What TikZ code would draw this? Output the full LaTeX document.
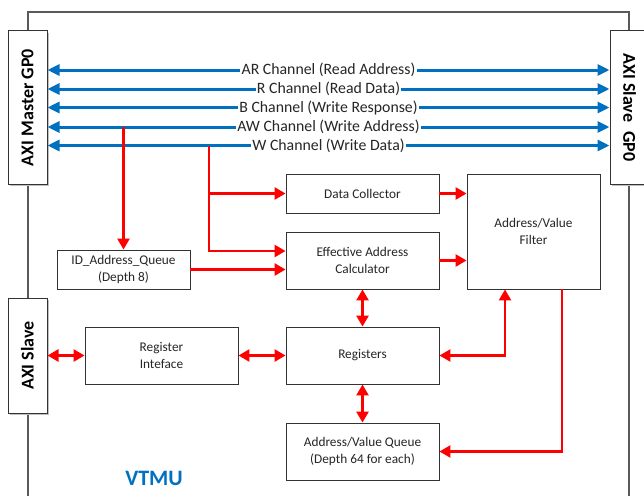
\documentclass[tikz,border=0pt]{standalone}
\usepackage{fontspec}
\setmainfont{Carlito}
\usetikzlibrary{arrows.meta,calc,shadows}
\definecolor{axiblue}{HTML}{0070C0}
\definecolor{framegray}{HTML}{595959}
\begin{document}
\begin{tikzpicture}[x=1pt,y=-1pt,
  blk/.style={draw=black!80, line width=0.9pt, fill=white, text=black!85, align=center,
    font=\fontsize{13.3}{16.5}\selectfont, inner sep=0pt},
  axibox/.style={draw=black!80, line width=1pt, fill=white, inner sep=0pt,
    drop shadow={shadow xshift=2pt, shadow yshift=-2pt, fill=black!25, opacity=1}},
  axitext/.style={font=\bfseries\fontsize{18}{20}\selectfont, text=black},
  bluearr/.style={draw=axiblue, line width=3pt, {Triangle[length=12pt,width=11pt]}-{Triangle[length=12pt,width=11pt]}},
  chlabel/.style={fill=white, inner sep=1.2pt, text=black!85, font=\fontsize{15.8}{17}\selectfont},
  redline/.style={draw=red, line width=2.6pt},
  redarr/.style={redline, -{Triangle[length=11pt,width=12pt]}},
  reddbl/.style={redline, {Triangle[length=11pt,width=12pt]}-{Triangle[length=11pt,width=12pt]}}
]
\useasboundingbox (0,0) rectangle (644,495);
% outer VTMU frame
\draw[framegray, line width=1.3pt] (28,12) rectangle (629,530);

% AXI boxes
\node[axibox, minimum width=39pt, minimum height=153pt] (master) at (27.5,107.5) {};
\node[axitext, rotate=90] (mastert) at (master.center) {AXI Master GP0};
\node[axibox, minimum width=39pt, minimum height=153pt] (slavegp) at (629.5,107.5) {};
\node[axitext, rotate=-90] (slavegpt) at (slavegp.center) {AXI Slave\hspace{0.5em}GP0};
\node[axibox, minimum width=39pt, minimum height=115pt] (slave) at (27.5,355.5) {};
\node[axitext, rotate=90] (slavet) at (slave.center) {AXI Slave};

% inner blocks
\node[blk, minimum width=153pt, minimum height=39pt] (dc) at (362.5,193.5) {Data Collector};
\node[blk, minimum width=153pt, minimum height=57pt] (eac) at (362.5,260.5) {Effective Address\\Calculator};
\node[blk, minimum width=133pt, minimum height=115pt] (filter) at (533.5,231.5) {Address/Value\\Filter};
\node[blk, minimum width=133pt, minimum height=39pt] (idq) at (123.5,269.5) {ID\_Address\_Queue\\(Depth 8)};
\node[blk, minimum width=153pt, minimum height=57pt] (ri) at (161.5,355.5) {Register\\Inteface};
\node[blk, minimum width=153pt, minimum height=57pt] (reg) at (362.5,355.5) {Registers};
\node[blk, minimum width=153pt, minimum height=57pt] (avq) at (362.5,451.5) {Address/Value Queue\\(Depth 64 for each)};

% VTMU label
\node[text=axiblue, font=\bfseries\fontsize{22}{24}\selectfont] (vtmu) at (154,478) {VTMU};

% blue channels
\draw[bluearr] (master.east |- 0,70) -- (slavegp.west |- 0,70) node[chlabel, midway] {AR Channel (Read Address)};
\draw[bluearr] (master.east |- 0,89) -- (slavegp.west |- 0,89) node[chlabel, midway] {R Channel (Read Data)};
\draw[bluearr] (master.east |- 0,107.5) -- (slavegp.west |- 0,107.5) node[chlabel, midway] {B Channel (Write Response)};
\draw[bluearr] (master.east |- 0,127) -- (slavegp.west |- 0,127) node[chlabel, midway] {AW Channel (Write Address)};
\draw[bluearr] (master.east |- 0,145.5) -- (slavegp.west |- 0,145.5) node[chlabel, midway] {W Channel (Write Data)};

% taps
\coordinate (awtap) at (123.5,127);
\coordinate (wtap) at (209,145.5);
\draw[redarr] (awtap) -- (idq.north);
\draw[redarr] (wtap) |- (eac.west |- 0,251);
\draw[redarr] (wtap |- dc.west) -- (dc.west);
\draw[redarr] (idq.east) -- (eac.west |- idq.east);
\draw[redarr] (dc.east) -- (dc.east -| filter.west);
\draw[redarr] (eac.east) -- (eac.east -| filter.west);
\draw[reddbl] (eac.south) -- (reg.north);
\draw[reddbl] (reg.south) -- (avq.north);
\draw[reddbl] (slave.east) -- (ri.west);
\draw[reddbl] (ri.east) -- (reg.west);
\draw[reddbl] (reg.east) -| ($(filter.south)+(-28.5,0)$);
\draw[redarr] ($(filter.south)+(28.5,0)$) |- (avq.east);
\end{tikzpicture}
\end{document}
